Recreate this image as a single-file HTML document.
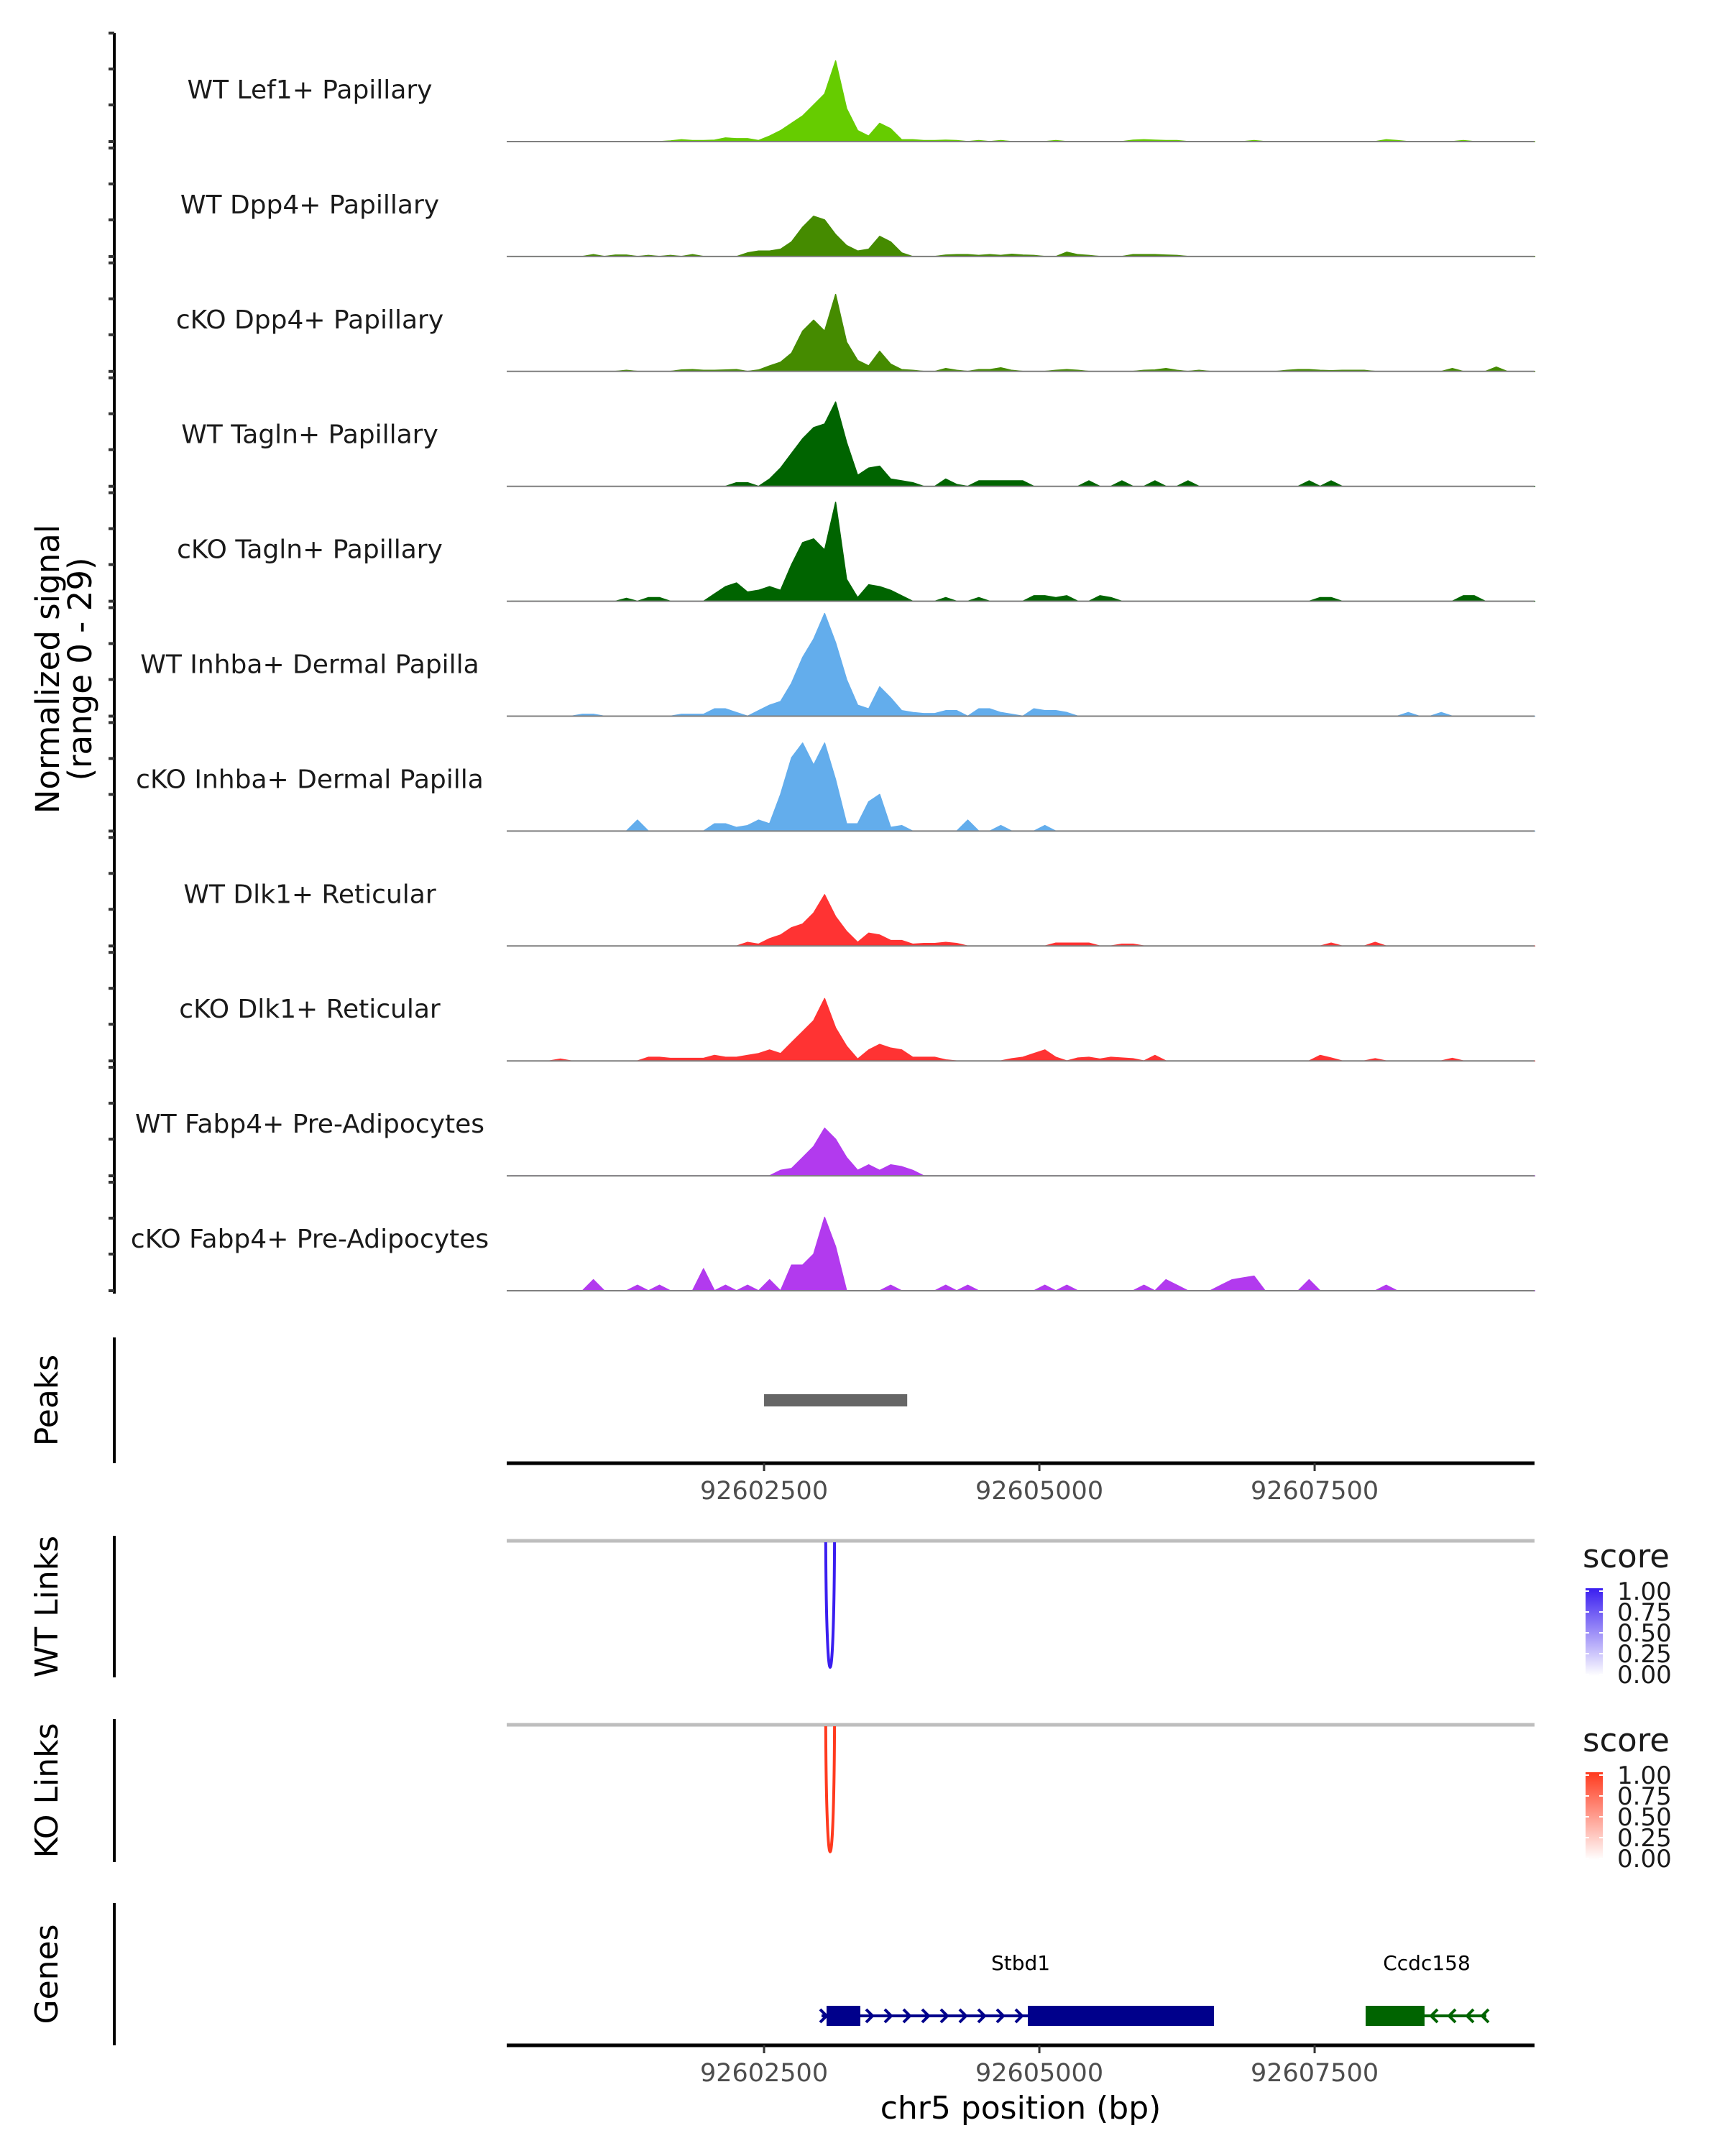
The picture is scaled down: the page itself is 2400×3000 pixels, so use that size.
<!DOCTYPE html>
<html><head><meta charset="utf-8"><style>
html,body{margin:0;padding:0;background:#fff;}
svg{display:block;font-family:"DejaVu Sans","Liberation Sans",sans-serif;}
</style></head><body>
<svg id="chart" width="2400" height="3000" viewBox="0 0 2400 3000" xmlns="http://www.w3.org/2000/svg">
<defs>
<linearGradient id="gBlue" x1="0" y1="0" x2="0" y2="1"><stop offset="0" stop-color="#3a1ef0"/><stop offset="1" stop-color="#ffffff"/></linearGradient>
<linearGradient id="gRed" x1="0" y1="0" x2="0" y2="1"><stop offset="0" stop-color="#ff3a1e"/><stop offset="1" stop-color="#ffffff"/></linearGradient>
</defs>
<g id="tracks"></g>
<g id="static"></g>
</svg>
<script>
const binStart = 92600200;
const binSize = 100;
const xMinBp = 92600163;
const xMaxBp = 92609497;
const yMax = 29;
const trackLabels = ["WT Lef1+ Papillary","WT Dpp4+ Papillary","cKO Dpp4+ Papillary","WT Tagln+ Papillary","cKO Tagln+ Papillary","WT Inhba+ Dermal Papilla","cKO Inhba+ Dermal Papilla","WT Dlk1+ Reticular","cKO Dlk1+ Reticular","WT Fabp4+ Pre-Adipocytes","cKO Fabp4+ Pre-Adipocytes"];
const trackColors = ["#66cc00","#458b00","#458b00","#006400","#006400","#63adec","#63adec","#ff3333","#ff3333","#b23aee","#b23aee"];
const xTicks = [92602500,92605000,92607500];
const legendTicks = ["1.00","0.75","0.50","0.25","0.00"];
const peakStartBp = 92602500;
const peakEndBp = 92603800;
const linkStartBp = 92603060;
const linkEndBp = 92603140;

const sigLef1 = [0,0,0,0,0,0,0,0,0,0, 0,0,0,0,0.2,0.5,0.3,0.3,0.4,1, 0.8,0.8,0.3,1.5,3,5,7,10,13,22, 9,3,1.5,5,3.5,0.5,0.5,0.3,0.3,0.4, 0.3,0,0.3,0,0.3,0,0,0,0,0.3, 0,0,0,0,0,0,0.4,0.5,0.4,0.3, 0.3,0,0,0,0,0,0,0.3,0,0, 0,0,0,0,0,0,0,0,0,0.5, 0.3,0,0,0,0,0,0.3,0,0,0, 0,0,0];
const sigDpp4WT = [0,0,0,0,0,0,0,0.5,0,0.4, 0.4,0,0.3,0,0.3,0,0.5,0,0,0, 0,1,1.5,1.5,2,4,8,11,10,6, 3,1.5,2,5.5,4,1,0,0,0,0.4, 0.5,0.5,0.3,0.5,0.3,0.6,0.4,0.3,0,0, 1.2,0.5,0.3,0,0,0,0.5,0.5,0.5,0.4, 0.3,0,0,0,0,0,0,0,0,0, 0,0,0,0,0,0,0,0,0,0, 0,0,0,0,0,0,0,0,0,0, 0,0,0];
const sigDpp4KO = [0,0,0,0,0,0,0,0,0,0, 0.3,0,0,0,0,0.4,0.5,0.3,0.3,0.4, 0.5,0,0.4,1.5,2.5,5,11,14,11,21, 8,3,1.5,5.5,2,0.5,0.3,0,0,0.8, 0.3,0,0.5,0.5,1,0.3,0,0,0,0.3, 0.5,0.3,0,0,0,0,0,0.3,0.4,0.8, 0.3,0,0.3,0,0,0,0,0,0,0, 0.3,0.5,0.5,0.3,0.2,0.3,0.3,0.3,0,0, 0,0,0,0,0,0.8,0,0,0,1.2, 0,0,0];
const sigTaglnWT = [0,0,0,0,0,0,0,0,0,0, 0,0,0,0,0,0,0,0,0,0, 1,1,0,2,5,9,13,16,17,23, 12,3,5,5.5,2,1.5,1,0,0,2, 0.5,0,1.5,1.5,1.5,1.5,1.5,0,0,0, 0,0,1.5,0,0,1.5,0,0,1.5,0, 0,1.5,0,0,0,0,0,0,0,0, 0,0,1.5,0,1.5,0,0,0,0,0, 0,0,0,0,0,0,0,0,0,0, 0,0,0];
const sigTaglnKO = [0,0,0,0,0,0,0,0,0,0, 0.8,0,1,1,0,0,0,0,2,4, 5,2.5,3,4,3,10,16,17,14,27, 6,1,4.5,4,3,1.5,0,0,0,1, 0,0,1,0,0,0,0,1.5,1.5,1, 1.5,0,0,1.5,1,0,0,0,0,0, 0,0,0,0,0,0,0,0,0,0, 0,0,0,1,1,0,0,0,0,0, 0,0,0,0,0,0,1.5,1.5,0,0, 0,0,0];
const sigInhbaWT = [0,0,0,0,0,0,0.5,0.5,0,0, 0,0,0,0,0,0.5,0.5,0.5,2,2, 1,0,1.5,3,4,9,16,21,28,20, 10,3,2,8,5,1.5,1,0.7,0.7,1.5, 1.5,0,2,2,1,0.5,0,2,1.5,1.5, 1,0,0,0,0,0,0,0,0,0, 0,0,0,0,0,0,0,0,0,0, 0,0,0,0,0,0,0,0,0,0, 0,1,0,0,1,0,0,0,0,0, 0,0,0];
const sigInhbaKO = [0,0,0,0,0,0,0,0,0,0, 0,3,0,0,0,0,0,0,2,2, 1,1.5,3,2,10,20,24,18,24,14, 2,2,8,10,1,1.5,0,0,0,0, 0,3,0,0,1.5,0,0,0,1.5,0, 0,0,0,0,0,0,0,0,0,0, 0,0,0,0,0,0,0,0,0,0, 0,0,0,0,0,0,0,0,0,0, 0,0,0,0,0,0,0,0,0,0, 0,0,0];
const sigDlk1WT = [0,0,0,0,0,0,0,0,0,0, 0,0,0,0,0,0,0,0,0,0, 0,1,0.5,2,3,5,6,9,14,8, 4,1,3.5,3,1.5,1.5,0.5,0.7,0.7,1, 0.7,0,0,0,0,0,0,0,0,0.8, 0.8,0.8,0.8,0,0,0.5,0.5,0,0,0, 0,0,0,0,0,0,0,0,0,0, 0,0,0,0,0.8,0,0,0,1,0, 0,0,0,0,0,0,0,0,0,0, 0,0,0];
const sigDlk1KO = [0,0,0,0,0.5,0,0,0,0,0, 0,0,1,1,0.7,0.7,0.7,0.7,1.5,1, 1,1.5,2,3,2,5,8,11,17,9, 4,0.5,3,4.5,3.5,3,1,1,1,0.3, 0,0,0,0,0,0.6,1,2,3,1, 0,0.8,1,0.5,1,0.8,0.6,0,1.5,0, 0,0,0,0,0,0,0,0,0,0, 0,0,0,1.5,0.8,0,0,0,0.6,0, 0,0,0,0,0,0.7,0,0,0,0, 0,0,0];
const sigFabp4WT = [0,0,0,0,0,0,0,0,0,0, 0,0,0,0,0,0,0,0,0,0, 0,0,0,0,1.5,2,5,8,13,10, 5,1.5,3,1.5,3,2.5,1.5,0,0,0, 0,0,0,0,0,0,0,0,0,0, 0,0,0,0,0,0,0,0,0,0, 0,0,0,0,0,0,0,0,0,0, 0,0,0,0,0,0,0,0,0,0, 0,0,0,0,0,0,0,0,0,0, 0,0,0];
const sigFabp4KO = [0,0,0,0,0,0,0,3,0,0, 0,1.5,0,1.5,0,0,0,6,0,1.5, 0,1.5,0,3,0,7,7,10,20,12, 0,0,0,0,1.5,0,0,0,0,1.5, 0,1.5,0,0,0,0,0,0,1.5,0, 1.5,0,0,0,0,0,0,1.5,0,3, 1.5,0,0,0,1.5,3,3.5,4,0,0, 0,0,3,0,0,0,0,0,0,1.5, 0,0,0,0,0,0,0,0,0,0, 0,0,0];
const trackSignals = [sigLef1,sigDpp4WT,sigDpp4KO,sigTaglnWT,sigTaglnKO,sigInhbaWT,sigInhbaKO,sigDlk1WT,sigDlk1KO,sigFabp4WT,sigFabp4KO];

const NS = "http://www.w3.org/2000/svg";
const X0 = 705, X1 = 2135;
function xs(bp){ return X0 + (bp - xMinBp) / (xMaxBp - xMinBp) * (X1 - X0); }
const trackH = 148;
function baseY(k){ return 197 + 159.9 * k; }
function ys(k, v){ return baseY(k) - v / yMax * trackH; }
function mk(tag, attrs, parent){ const e = document.createElementNS(NS, tag); for (const a in attrs) e.setAttribute(a, attrs[a]); parent.appendChild(e); return e; }

const tracks = document.getElementById('tracks');
const st = document.getElementById('static');

let yAxis = mk('line', {x1:159, y1:46, x2:159, y2:1800, stroke:'#000', 'stroke-width':4}, tracks);



trackSignals.forEach((sig, k) => {
  const g = mk('g', {}, tracks);
  
  
  const b = baseY(k);
  [0, 51, 101, 151].forEach(off => {
    const t = mk('line', {x1:151, y1:b-off, x2:159, y2:b-off, stroke:'#333', 'stroke-width':4}, g);
    
    
  });
  let d = 'M' + xs(binStart) + ',' + b;
  sig.forEach((v, i) => { d += ' L' + xs(binStart + binSize * i + binSize / 2).toFixed(1) + ',' + ys(k, v).toFixed(1); });
  d += ' L' + xs(binStart + binSize * sig.length) + ',' + b + ' Z';
  const p = mk('path', {d:d, fill:trackColors[k], stroke:trackColors[k], 'stroke-width':1.5, 'stroke-linejoin':'round'}, g);
  
  
  const bl = mk('line', {x1:X0, y1:b, x2:X1, y2:b, stroke:'#7f7f7f', 'stroke-width':2}, g);
  
  
  const lab = mk('text', {x:431, y:b-60, 'text-anchor':'middle', 'font-size':36, fill:'#1a1a1a'}, g);
  lab.textContent = trackLabels[k];
  
  
});

let pk = mk('rect', {x:xs(peakStartBp), y:1940, width:xs(peakEndBp)-xs(peakStartBp), height:17, fill:'#666'}, st);



function xAxis(y, name){
  const g = mk('g', {}, st);
  
  
  mk('line', {x1:X0, y1:y, x2:X1, y2:y, stroke:'#000', 'stroke-width':5}, g);
  xTicks.forEach(t => {
    mk('line', {x1:xs(t), y1:y, x2:xs(t), y2:y+11, stroke:'#333', 'stroke-width':3}, g);
    const tx = mk('text', {x:xs(t), y:y+50, 'text-anchor':'middle', 'font-size':35, fill:'#4d4d4d'}, g);
    tx.textContent = t;
    
    
  });
}
xAxis(2036, 'peaks-x-axis');
xAxis(2846, 'genes-x-axis');

function links(lineY, bottomY, color, name){
  const g = mk('g', {}, st);
  
  
  mk('line', {x1:X0, y1:lineY, x2:X1, y2:lineY, stroke:'#bebebe', 'stroke-width':5}, g);
  const a = xs(linkStartBp), b = xs(linkEndBp);
  const d = `M${a},${lineY+2} C${a+1},${bottomY+45} ${b-1},${bottomY+45} ${b},${lineY+2}`;
  const p = mk('path', {d:d, fill:'none', stroke:color, 'stroke-width':4}, g);
  
  
}
links(2144, 2333, '#3a1ef0', 'wt-links-panel');
links(2400, 2590, '#ff3a1e', 'ko-links-panel');

function legend(y0, ly0, grad, name){
  const g = mk('g', {}, st);
  
  
  const t = mk('text', {x:2202, y:y0, 'font-size':45, fill:'#1a1a1a'}, g);
  t.textContent = 'score';
  mk('rect', {x:2206, y:ly0-4, width:24, height:122, fill:'url(#' + grad + ')'}, g);
  legendTicks.forEach((lt, i) => {
    const yy = ly0 + i * 29;
    mk('line', {x1:2206, y1:yy, x2:2211, y2:yy, stroke:'#fff', 'stroke-width':2}, g);
    mk('line', {x1:2225, y1:yy, x2:2230, y2:yy, stroke:'#fff', 'stroke-width':2}, g);
    const l = mk('text', {x:2250, y:yy+12, 'font-size':34, fill:'#1a1a1a'}, g);
    l.textContent = lt;
  });
}
legend(2181, 2214, 'gBlue', 'wt-score-legend');
legend(2437, 2470, 'gRed', 'ko-score-legend');

[[1861,2036,'Peaks'],[2137,2334,'WT Links'],[2392,2591,'KO Links'],[2648,2846,'Genes']].forEach(([a,b,t]) => {
  const l = mk('line', {x1:159, y1:a, x2:159, y2:b, stroke:'#000', 'stroke-width':4}, st);
  
  
  const c = (a+b)/2;
  const tx = mk('text', {x:80, y:c, 'text-anchor':'middle', 'font-size':44, fill:'#000', transform:`rotate(-90 80 ${c})`}, st);
  tx.textContent = t;
  
  
});
const yt1 = mk('text', {x:82, y:931, 'text-anchor':'middle', 'font-size':45, fill:'#000', transform:'rotate(-90 82 931)'}, st);
yt1.textContent = 'Normalized signal';


const yt2 = mk('text', {x:127, y:931, 'text-anchor':'middle', 'font-size':45, fill:'#000', transform:'rotate(-90 127 931)'}, st);
yt2.textContent = '(range 0 - 29)';


const xt = mk('text', {x:1420, y:2948, 'text-anchor':'middle', 'font-size':44, fill:'#000'}, st);
xt.textContent = 'chr5 position (bp)';



function gene(name, color, x1, x2, exons, chev, dir, lx){
  const g = mk('g', {}, st);
  
  
  mk('line', {x1:x1, y1:2805, x2:x2, y2:2805, stroke:color, 'stroke-width':4}, g);
  exons.forEach(([a,b]) => mk('rect', {x:a, y:2791, width:b-a, height:28, fill:color}, g));
  chev.forEach(cx => {
    const d = dir > 0 ? `M${cx-5},${2796} L${cx+4},${2805} L${cx-5},${2814}` : `M${cx+5},${2796} L${cx-4},${2805} L${cx+5},${2814}`;
    mk('path', {d:d, fill:'none', stroke:color, 'stroke-width':4}, g);
  });
  const t = mk('text', {x:lx, y:2741, 'text-anchor':'middle', 'font-size':28, fill:'#000'}, g);
  t.textContent = name;
}
gene('Stbd1', '#00008b', 1143, 1689, [[1150,1197],[1430,1689]], [1146,1210,1236,1262,1288,1314,1340,1366,1392,1418], 1, 1420);
gene('Ccdc158', '#006400', 1900, 2068, [[1900,1982]], [1995,2020,2045,2066], -1, 1985);
</script>
</body></html>
